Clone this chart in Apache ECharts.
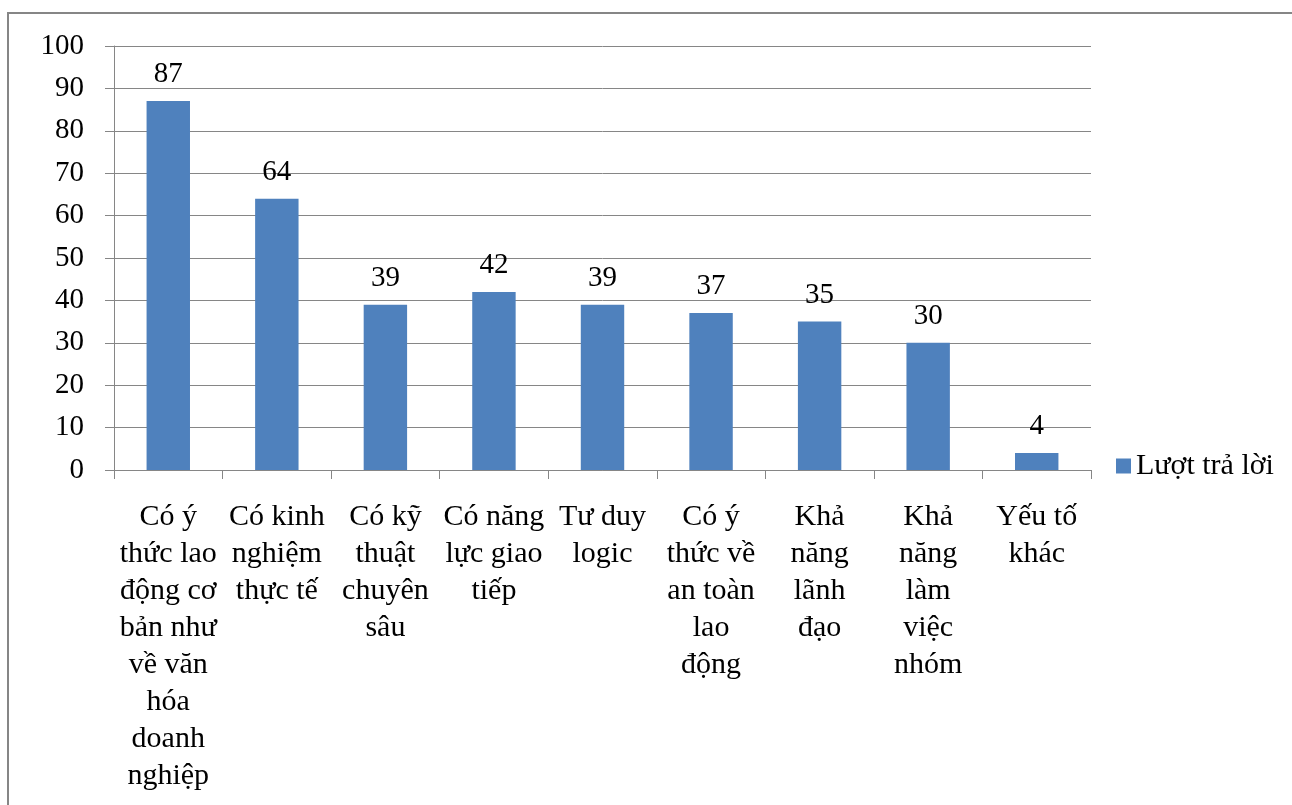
<!DOCTYPE html>
<html>
<head>
<meta charset="utf-8">
<title>Lượt trả lời</title>
<script src="https://cdn.jsdelivr.net/npm/echarts@6/dist/echarts.min.js"></script>
<style>
  html, body { margin: 0; padding: 0; background: #fff; }
  #chart { width: 1292px; height: 805px; }
</style>
</head>
<body>
<div id="chart"></div>
<script>
// nhãn trục hoành (xuống dòng như bản gốc)
var categories = [
  'Có ý\nthức lao\nđộng cơ\nbản như\nvề văn\nhóa\ndoanh\nnghiệp',
  'Có kinh\nnghiệm\nthực tế',
  'Có kỹ\nthuật\nchuyên\nsâu',
  'Có năng\nlực giao\ntiếp',
  'Tư duy\nlogic',
  'Có ý\nthức về\nan toàn\nlao\nđộng',
  'Khả\nnăng\nlãnh\nđạo',
  'Khả\nnăng\nlàm\nviệc\nnhóm',
  'Yếu tố\nkhác'
];
// số lượt trả lời
var answers = [87, 64, 39, 42, 39, 37, 35, 30, 4];
var seriesName = 'Lượt trả lời';

var serif = '"Liberation Serif", "DejaVu Serif", serif';
var gray = '#868686';

var chart = echarts.init(document.getElementById('chart'));
chart.setOption({
  animation: false,
  textStyle: { fontFamily: serif },
  graphic: [{
    type: 'rect',
    shape: { x: 8, y: 13, width: 1400, height: 900 },
    style: { fill: 'none', stroke: gray, lineWidth: 2 },
    silent: true
  }],
  legend: {
    data: [seriesName],
    left: 1111,
    top: 446,
    orient: 'vertical',
    icon: 'rect',
    itemWidth: 15,
    itemHeight: 15,
    itemGap: 8,
    textStyle: { fontFamily: serif, fontSize: 30, color: '#000' }
  },
  grid: { left: 114, top: 46, right: 201, bottom: 335 },
  xAxis: {
    type: 'category',
    data: categories,
    axisLine: { lineStyle: { color: gray, width: 1 } },
    axisTick: { show: true, length: 9, alignWithLabel: false, lineStyle: { color: gray } },
    axisLabel: {
      interval: 0,
      margin: 29,
      color: '#000',
      fontFamily: serif,
      fontSize: 30,
      lineHeight: 37
    }
  },
  yAxis: {
    type: 'value',
    min: 0,
    max: 100,
    interval: 10,
    axisLine: { show: true, lineStyle: { color: gray, width: 1 } },
    axisTick: { show: true, length: 9, lineStyle: { color: gray } },
    splitLine: { lineStyle: { color: gray, width: 1 } },
    axisLabel: { margin: 30, color: '#000', fontFamily: serif, fontSize: 29 }
  },
  series: [{
    name: seriesName,
    type: 'bar',
    data: answers,
    barWidth: '40%',
    itemStyle: { color: '#4F81BD' },
    label: {
      show: true,
      position: 'top',
      distance: 12,
      color: '#000',
      fontFamily: serif,
      fontSize: 29
    }
  }]
});
</script>
</body>
</html>
